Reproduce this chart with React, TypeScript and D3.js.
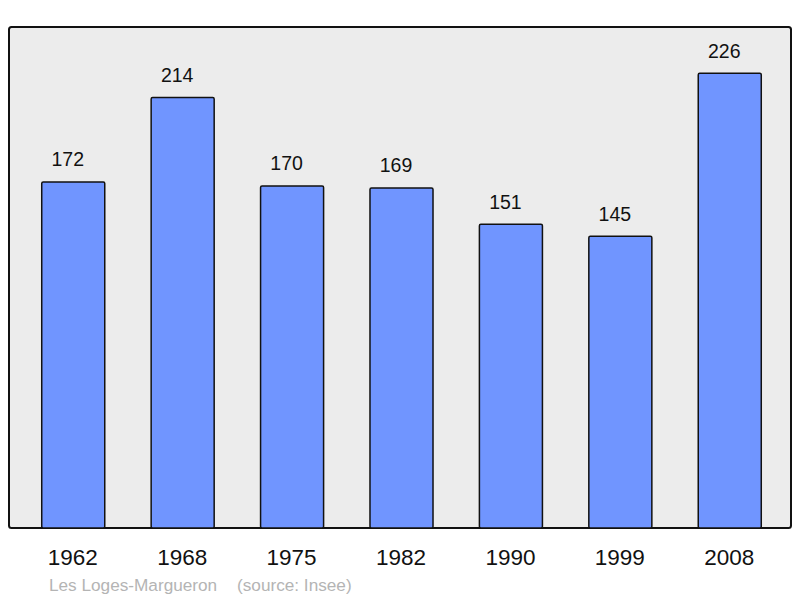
import React from "react";
import * as d3 from "d3";

const years = ["1962", "1968", "1975", "1982", "1990", "1999", "2008"];
const population = [172, 214, 170, 169, 151, 145, 226];
const placeName = "Les Loges-Margueron";
const sourceText = "(source: Insee)";

export default function App() {
  const W = 800, H = 598;
  const frame = { x: 9, y: 27, w: 782, h: 501 };
  const x = d3.scaleBand<string>().domain(years).range([10, 793]).paddingInner(0.424).paddingOuter(0.29);
  const y = d3.scaleLinear().domain([0, 250]).range([528, 25]);
  const font = "'Liberation Sans', Arial, sans-serif";
  return (
    <svg width={W} height={H} style={{ position: "absolute", left: 0, top: 0 }}>
      <rect x={frame.x} y={frame.y} width={frame.w} height={frame.h} rx={2.5} fill="#ececec" stroke="#111" strokeWidth={2} />
      {years.map((yr, i) => (
        <g key={yr}>
          <rect x={x(yr)!} y={y(population[i])} width={x.bandwidth()} height={y(0) - y(population[i])} rx={1.5} fill="#7095ff" stroke="#111" strokeWidth={1.5} />
          <text x={x(yr)! + x.bandwidth() / 2 - 5.5} y={y(population[i]) - 15.5} textAnchor="middle" fontFamily={font} fontSize={19.5} fill="#111">{population[i]}</text>
          <text x={x(yr)! + x.bandwidth() / 2 - 0.5} y={564.5} textAnchor="middle" fontFamily={font} fontSize={22.5} fill="#111">{yr}</text>
        </g>
      ))}
      <text x={49} y={590.5} fontFamily={font} fontSize={17.2} fill="#b4b4b4">{placeName}</text>
      <text x={237} y={590.5} fontFamily={font} fontSize={17.2} fill="#b4b4b4">{sourceText}</text>
    </svg>
  );
}
